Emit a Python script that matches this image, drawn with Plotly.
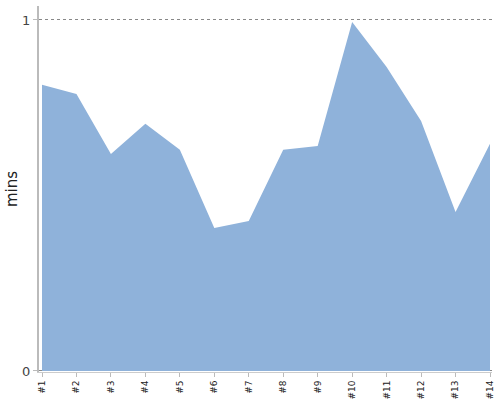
import plotly.graph_objects as go

categories = ["#1", "#2", "#3", "#4", "#5", "#6", "#7", "#8", "#9", "#10", "#11", "#12", "#13", "#14"]
mins = [0.815, 0.789, 0.618, 0.704, 0.630, 0.407, 0.427, 0.630, 0.641, 0.994, 0.866, 0.712, 0.453, 0.647]

fig = go.Figure()
fig.add_trace(go.Scatter(
    x=list(range(len(categories))), y=mins, mode="lines",
    line=dict(width=0, color="#8fb2da"), fill="tozeroy", fillcolor="#8fb2da",
    hoverinfo="skip", showlegend=False,
))

fig.update_layout(
    width=500, height=400, margin=dict(l=39, r=8, t=6, b=28),
    paper_bgcolor="white", plot_bgcolor="white",
    font=dict(family="DejaVu Sans, Verdana, sans-serif", color="#444"),
    xaxis=dict(
        range=[-0.087, 13.058], tickmode="array", tickvals=list(range(len(categories))),
        ticktext=categories, tickangle=-90, tickfont=dict(size=9, color="#222"),
        showgrid=False, zeroline=False, showline=True, linecolor="#ccc", linewidth=1,
        ticks="outside", ticklen=4, tickcolor="#bbb", automargin=False,
    ),
    yaxis=dict(
        range=[-0.003, 1.0397], tickvals=[0, 1], ticktext=["0", "1"],
        tickfont=dict(size=13, color="#444"),
        title=dict(text="mins", font=dict(size=15, color="#222"), standoff=1),
        showgrid=True, gridcolor="#888", griddash="dot", gridwidth=1,
        zeroline=False, showline=True, linecolor="#bbb", linewidth=2,
        ticks="outside", ticklen=4, tickcolor="#bbb", automargin=False,
    ),
)

fig.write_html("out.html", config={"displayModeBar": False},
               post_script="document.body.style.margin='0';")
